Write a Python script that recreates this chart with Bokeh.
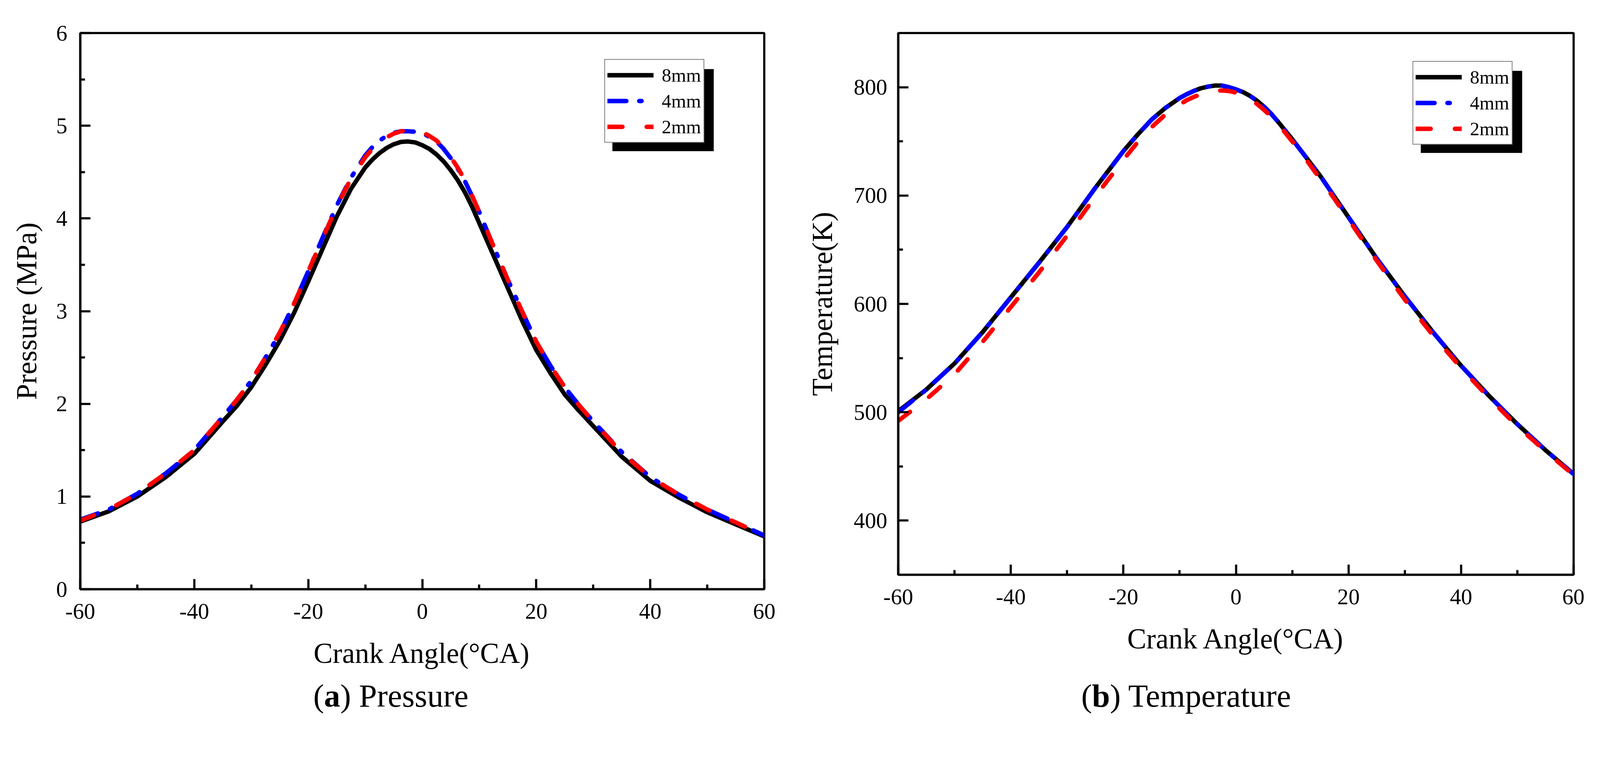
from bokeh.plotting import figure
from bokeh.models import Range1d, FixedTicker, Legend, LegendItem, BoxAnnotation, Div
from bokeh.layouts import row, column
from bokeh.embed import file_html
from bokeh.resources import INLINE

# ---------------- data ----------------
angle = [-60, -55, -50, -45, -40, -35, -32.5, -30, -27.5, -25, -22.5, -20, -17.5, -15, -12.5,
         -10, -8.75, -7.5, -6.25, -5, -3.75, -2.5, -1.25, 0,
         1.25, 2.5, 3.75, 5, 6.25, 7.5, 8.75, 10,
         12.5, 15, 17.5, 20, 22.5, 25, 27.5,
         30, 35, 40, 45, 50, 55, 60]

pressure_8mm = [0.73, 0.84, 1.00, 1.21, 1.46, 1.81, 1.98, 2.18, 2.42, 2.68, 2.98, 3.32, 3.67, 4.02, 4.32,
                4.55, 4.635, 4.705, 4.76, 4.80, 4.825, 4.83, 4.82, 4.79,
                4.75, 4.69, 4.615, 4.52, 4.41, 4.28, 4.125, 3.95,
                3.60, 3.25, 2.90, 2.58, 2.33, 2.10, 1.925,
                1.76, 1.43, 1.17, 0.99, 0.83, 0.70, 0.57]
pressure_4mm = [0.75, 0.86, 1.03, 1.25, 1.50, 1.86, 2.045, 2.25, 2.50, 2.76, 3.08, 3.43, 3.79, 4.14, 4.44,
                4.68, 4.77, 4.84, 4.89, 4.925, 4.94, 4.94, 4.935, 4.92,
                4.88, 4.83, 4.75, 4.65, 4.535, 4.40, 4.24, 4.07,
                3.70, 3.34, 3.00, 2.67, 2.41, 2.18, 1.985,
                1.81, 1.48, 1.21, 1.02, 0.86, 0.72, 0.58]
pressure_2mm = [0.74, 0.86, 1.03, 1.25, 1.50, 1.86, 2.045, 2.25, 2.50, 2.77, 3.08, 3.43, 3.78, 4.13, 4.43,
                4.66, 4.75, 4.82, 4.875, 4.915, 4.94, 4.95, 4.945, 4.93,
                4.89, 4.84, 4.76, 4.66, 4.545, 4.41, 4.245, 4.07,
                3.70, 3.34, 3.00, 2.67, 2.41, 2.18, 1.985,
                1.81, 1.47, 1.21, 1.02, 0.86, 0.72, 0.58]

temp_8mm = [501, 521, 545, 574, 606, 638, 654.5, 671, 689, 707, 724, 741, 756, 770, 781,
            790, 793.5, 796.5, 799, 800.5, 801.5, 801.5, 800, 798,
            795.5, 792, 787.5, 782, 775.5, 768, 760, 752,
            735, 718, 699, 680, 661, 642, 624.5,
            607, 574, 543, 515, 489, 465, 443]
temp_4mm = [500, 521, 545, 574, 606, 638, 654.5, 671, 689, 707, 724, 741, 756, 770, 781,
            790, 793.5, 796.5, 799, 800.5, 801.5, 801.5, 800, 798,
            795.5, 792, 787.5, 782, 775.5, 768, 760, 752,
            735, 718, 699, 680, 661, 642, 624.5,
            607, 574, 543, 515, 489, 465, 443]
temp_2mm = [492, 512, 535, 565, 597, 629, 646, 663, 681, 699, 716, 733, 749, 763, 775,
            784, 788, 791, 793.5, 795.5, 796.5, 797, 796.5, 795,
            792.5, 789, 784.5, 779, 773, 766, 758, 750,
            733, 715, 697, 678, 659, 640, 622,
            604, 571, 541, 513, 487, 464, 442]

series_names = ["8mm", "4mm", "2mm"]
x_ticks = [-60, -40, -20, 0, 20, 40, 60]
x_tick_labels = ["-60", "-40", "-20", "0", "20", "40", "60"]
x_minor = [-50, -30, -10, 10, 30, 50]
p_ticks = [0, 1, 2, 3, 4, 5, 6]
p_minor = [0.5, 1.5, 2.5, 3.5, 4.5, 5.5]
t_ticks = [400, 500, 600, 700, 800]
t_minor = [450, 550, 650, 750]

# ---------------- styling ----------------
S = 4096.0 / 4357.0          # css px per reference px
FONT = "Liberation Serif"
colors = ["#000000", "#0000FF", "#FF0000"]
dashes = ["solid", "48 33 6 33", "38 62"]


def s(v):
    return v * S


def make_panel(fl, fw, fr, ft, fh, fig_h, yr, yticks, yminor, ylabel, ys, ytick_standoff,
               ylab_standoff, leg_left, leg_top):
    # fl/fw/fr/ft/fh in css px: left border, frame width, right border, top border, frame height
    p = figure(frame_width=fw, frame_height=fh,
               min_border_left=fl, min_border_right=fr,
               min_border_top=ft, min_border_bottom=fig_h - ft - fh,
               x_range=Range1d(-60, 60), y_range=Range1d(*yr),
               output_backend="svg", toolbar_location=None)
    p.grid.visible = False
    p.background_fill_color = "white"
    p.border_fill_color = "white"
    p.outline_line_color = "black"
    p.outline_line_width = s(6)

    p.xaxis.ticker = FixedTicker(ticks=x_ticks, minor_ticks=x_minor)
    p.xaxis.major_label_overrides = {t: lab for t, lab in zip(x_ticks, x_tick_labels)}
    p.yaxis.ticker = FixedTicker(ticks=yticks, minor_ticks=yminor)
    p.xaxis.axis_label = "Crank Angle(°CA)"
    p.yaxis.axis_label = ylabel
    for ax in (p.xaxis[0], p.yaxis[0]):
        ax.axis_line_width = s(6)
        ax.axis_line_color = "black"
        ax.major_tick_in = round(s(28))
        ax.major_tick_out = 0
        ax.minor_tick_in = round(s(13))
        ax.minor_tick_out = 0
        ax.major_tick_line_width = s(6)
        ax.minor_tick_line_width = s(6)
        ax.major_label_text_font = FONT
        ax.major_label_text_font_size = f"{s(61):.1f}px"
        ax.major_label_text_color = "black"
        ax.axis_label_text_font = FONT
        ax.axis_label_text_font_size = f"{s(78):.1f}px"
        ax.axis_label_text_font_style = "normal"
        ax.axis_label_text_color = "black"
    p.xaxis.major_label_standoff = round(s(39))
    p.xaxis.axis_label_standoff = round(s(48))
    p.yaxis.major_label_standoff = round(s(ytick_standoff))
    p.yaxis.axis_label_standoff = round(s(ylab_standoff))

    renderers = []
    for y, c, d in zip(ys, colors, dashes):
        r = p.line(angle, y, line_color=c, line_width=s(12), line_dash=d,
                   line_cap="round", line_join="round")
        renderers.append(r)

    # legend shadow (pixel layout converted to data units)
    yspan = yr[1] - yr[0]
    pad, row_h = 6, round(s(70))
    leg_w, leg_h, off = s(276), 3 * row_h + 2 * pad, s(22)
    lx, ly = s(leg_left), s(leg_top)

    def dx(px):
        return -60 + px * 120.0 / fw

    def dy(px_from_top):
        return yr[1] - px_from_top * yspan / fh

    shadow = BoxAnnotation(left=dx(lx + off), right=dx(lx + leg_w + off),
                           top=dy(ly + off), bottom=dy(ly + leg_h + off),
                           fill_color="black", fill_alpha=1.0, line_alpha=0)
    p.add_layout(shadow)

    legend = Legend(items=[LegendItem(label=n, renderers=[r]) for n, r in zip(series_names, renderers)],
                    location=(round(lx), round(fh - ly - leg_h)),
                    label_text_font=FONT, label_text_font_size=f"{s(52):.1f}px",
                    label_text_color="black",
                    glyph_width=round(s(126)), glyph_height=row_h, label_height=row_h,
                    label_standoff=round(s(22)), padding=pad, spacing=0, margin=0,
                    border_line_color="black", border_line_width=s(3),
                    background_fill_color="white", background_fill_alpha=1.0)
    p.add_layout(legend)
    return p


def caption(head, tail, width, left):
    html = (f'<div style="position:relative; left:{left}px; white-space:nowrap; '
            f'font-family:\'Liberation Serif\', serif;">'
            f'(<b>{head}</b>) {tail}</div>')
    return Div(text=html, width=width, height=100,
               styles={"font-family": "'Liberation Serif', serif", "font-size": f"{s(88):.1f}px",
                       "line-height": "100px", "color": "black", "margin": "0", "padding": "0"})


# layout in css px (reference px * S), page starts at 0,0
FIG_H = 1730
a_left, a_fw, a_top, a_fh = round(s(218)), round(s(1863)), round(s(86)), round(s(1514))
b_left, b_fw, b_top, b_fh = 235, round(s(1839)), round(s(89)), round(s(1474))
b_start = round(s(2442)) - b_left
a_right = b_start - a_left - a_fw

p1 = make_panel(a_left, a_fw, a_right, a_top, a_fh, FIG_H, (0, 6), p_ticks, p_minor, "Pressure (MPa)",
                [pressure_8mm, pressure_4mm, pressure_2mm], 35, 34, 1427, 76)
p2 = make_panel(b_left, b_fw, 28, b_top, b_fh, FIG_H, (350, 850), t_ticks, t_minor, "Temperature(K)",
                [temp_8mm, temp_4mm, temp_2mm], 30, 39, 1401, 81)

cap_a = caption("a", "Pressure", b_start, round(s(853)))
cap_b = caption("b", "Temperature", 1992, round(s(2944)) - b_start)

layout = column(row(p1, p2), row(cap_a, cap_b))
open("out.html", "w").write(file_html(layout, INLINE))
